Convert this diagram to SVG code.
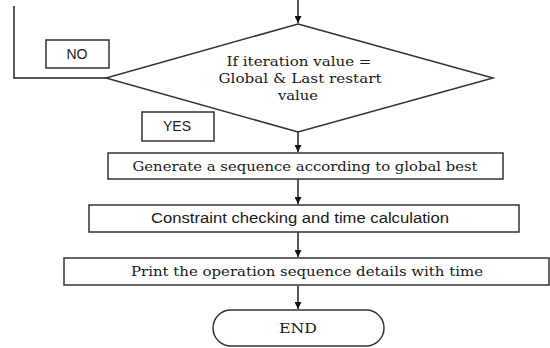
<svg xmlns="http://www.w3.org/2000/svg" width="550" height="348" viewBox="0 0 550 348">
  <defs>
    <marker id="arrow" viewBox="0 0 10 10" refX="10" refY="5" markerWidth="7" markerHeight="7" markerUnits="userSpaceOnUse" orient="auto">
      <path d="M0,0 L10,5 L0,10 z" fill="#111"/>
    </marker>
    <style>
      .shape { fill: #fff; stroke: #333; stroke-width: 1.5; }
      .line { fill: none; stroke: #222; stroke-width: 1.5; }
      .serif { font-family: "DejaVu Serif", "Liberation Serif", serif; font-size: 13px; fill: #1a1a1a; text-anchor: middle; }
      .sans { font-family: "Liberation Sans", "DejaVu Sans", sans-serif; font-size: 14px; fill: #1a1a1a; text-anchor: middle; }
    </style>
  </defs>

  <!-- connectors -->
  <g id="connectors">
    <line class="line" x1="298" y1="0" x2="298" y2="23" marker-end="url(#arrow)"/>
    <polyline class="line" points="106,78 14,78 14,6"/>
    <line class="line" x1="298" y1="132" x2="298" y2="152" marker-end="url(#arrow)"/>
    <line class="line" x1="298" y1="179" x2="298" y2="204" marker-end="url(#arrow)"/>
    <line class="line" x1="298" y1="232" x2="298" y2="257" marker-end="url(#arrow)"/>
    <line class="line" x1="298" y1="286" x2="298" y2="309" marker-end="url(#arrow)"/>
  </g>

  <!-- decision -->
  <g id="decision">
    <polygon class="shape" points="298,24 493,78 298,132 106,78"/>
    <text class="serif" x="299" y="66" textLength="145" lengthAdjust="spacingAndGlyphs">If iteration value =</text>
    <text class="serif" x="300" y="83" textLength="163" lengthAdjust="spacingAndGlyphs">Global &amp; Last restart</text>
    <text class="serif" x="298" y="100" textLength="40" lengthAdjust="spacingAndGlyphs">value</text>
  </g>

  <g id="label-no">
    <rect class="shape" x="46" y="40" width="63" height="28"/>
    <text class="sans" x="77" y="59">NO</text>
  </g>

  <g id="label-yes">
    <rect class="shape" x="142" y="112" width="72" height="29"/>
    <text class="sans" x="177" y="131">YES</text>
  </g>

  <g id="generate">
    <rect class="shape" x="108" y="153" width="395" height="26"/>
    <text class="serif" x="305" y="171" textLength="345" lengthAdjust="spacingAndGlyphs">Generate a sequence according to global best</text>
  </g>

  <g id="constraint">
    <rect class="shape" x="89" y="205" width="430" height="27"/>
    <text class="sans" x="300" y="223" textLength="298" lengthAdjust="spacingAndGlyphs">Constraint checking and time calculation</text>
  </g>

  <g id="print">
    <rect class="shape" x="64" y="258" width="485" height="27"/>
    <text class="serif" x="307" y="276" textLength="352" lengthAdjust="spacingAndGlyphs">Print the operation sequence details with time</text>
  </g>

  <g id="end">
    <rect class="shape" x="213" y="310" width="171" height="36" rx="18" ry="18"/>
    <text class="serif" x="298" y="333" textLength="38" lengthAdjust="spacingAndGlyphs">END</text>
  </g>
</svg>
